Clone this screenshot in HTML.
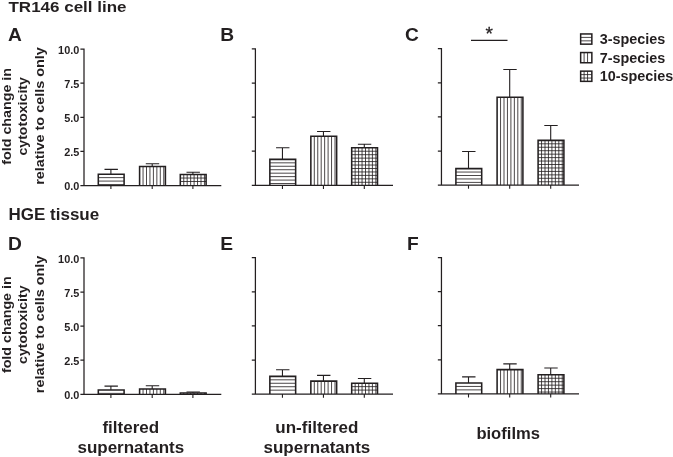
<!DOCTYPE html>
<html><head><meta charset="utf-8"><title>Figure</title>
<style>html,body{margin:0;padding:0;background:#fff}body{width:673px;height:457px;overflow:hidden}</style>
</head><body>
<svg width="673" height="457" viewBox="0 0 673 457" style="display:block">
<rect width="673" height="457" fill="#fff"/>
<g font-family='"Liberation Sans", sans-serif' font-weight="bold" fill="#231f20" stroke-linecap="butt">
<path d="M110.90 174.18V169.40M104.50 169.40H117.90" stroke="#231f20" stroke-width="1.1" fill="none"/>
<rect x="98.30" y="174.18" width="25.80" height="11.32" fill="#fff"/>
<path d="M98.30 177.63H124.10M98.30 181.08H124.10M98.30 184.53H124.10" stroke="#231f20" stroke-width="0.82" fill="none"/>
<path d="M98.30 185.50V174.18H124.10V185.50" fill="none" stroke="#231f20" stroke-width="1.55" stroke-linejoin="miter"/>
<path d="M110.90 185.50V189.10" stroke="#231f20" stroke-width="1.1"/>
<path d="M152.20 166.40V163.68M145.80 163.68H159.20" stroke="#231f20" stroke-width="1.1" fill="none"/>
<rect x="139.60" y="166.40" width="25.80" height="19.10" fill="#fff"/>
<path d="M143.05 166.40V185.50M146.50 166.40V185.50M149.95 166.40V185.50M153.40 166.40V185.50M156.85 166.40V185.50M160.30 166.40V185.50M163.75 166.40V185.50" stroke="#231f20" stroke-width="0.82" fill="none"/>
<path d="M139.60 185.50V166.40H165.40V185.50" fill="none" stroke="#231f20" stroke-width="1.55" stroke-linejoin="miter"/>
<path d="M152.20 185.50V189.10" stroke="#231f20" stroke-width="1.1"/>
<path d="M192.90 174.59V172.27M186.50 172.27H199.90" stroke="#231f20" stroke-width="1.1" fill="none"/>
<rect x="180.30" y="174.59" width="25.80" height="10.91" fill="#fff"/>
<path d="M180.30 178.04H206.10M180.30 181.49H206.10M183.75 174.59V185.50M187.20 174.59V185.50M190.65 174.59V185.50M194.10 174.59V185.50M197.55 174.59V185.50M201.00 174.59V185.50M204.45 174.59V185.50" stroke="#231f20" stroke-width="0.82" fill="none"/>
<path d="M180.30 185.50V174.59H206.10V185.50" fill="none" stroke="#231f20" stroke-width="1.55" stroke-linejoin="miter"/>
<path d="M192.90 185.50V189.10" stroke="#231f20" stroke-width="1.1"/>
<text x="79.30" y="190.10" font-size="10.9" text-anchor="end">0.0</text>
<text x="79.30" y="156.00" font-size="10.9" text-anchor="end">2.5</text>
<text x="79.30" y="121.90" font-size="10.9" text-anchor="end">5.0</text>
<text x="79.30" y="87.80" font-size="10.9" text-anchor="end">7.5</text>
<text x="79.30" y="53.70" font-size="10.9" text-anchor="end">10.0</text>
<path d="M84.00 48.47V185.50M83.38 185.50H221.30M80.40 185.50H84.00M80.40 151.40H84.00M80.40 117.30H84.00M80.40 83.20H84.00M80.40 49.10H84.00" stroke="#231f20" stroke-width="1.25" fill="none"/>
<path d="M282.45 159.38V147.79M276.05 147.79H289.45" stroke="#231f20" stroke-width="1.1" fill="none"/>
<rect x="269.85" y="159.38" width="25.80" height="25.92" fill="#fff"/>
<path d="M269.85 162.83H295.65M269.85 166.28H295.65M269.85 169.73H295.65M269.85 173.18H295.65M269.85 176.63H295.65M269.85 180.08H295.65M269.85 183.53H295.65" stroke="#231f20" stroke-width="0.82" fill="none"/>
<path d="M269.85 185.30V159.38H295.65V185.30" fill="none" stroke="#231f20" stroke-width="1.55" stroke-linejoin="miter"/>
<path d="M282.45 185.30V188.90" stroke="#231f20" stroke-width="1.1"/>
<path d="M323.45 136.20V131.56M317.05 131.56H330.45" stroke="#231f20" stroke-width="1.1" fill="none"/>
<rect x="310.85" y="136.20" width="25.80" height="49.10" fill="#fff"/>
<path d="M314.30 136.20V185.30M317.75 136.20V185.30M321.20 136.20V185.30M324.65 136.20V185.30M328.10 136.20V185.30M331.55 136.20V185.30M335.00 136.20V185.30" stroke="#231f20" stroke-width="0.82" fill="none"/>
<path d="M310.85 185.30V136.20H336.65V185.30" fill="none" stroke="#231f20" stroke-width="1.55" stroke-linejoin="miter"/>
<path d="M323.45 185.30V188.90" stroke="#231f20" stroke-width="1.1"/>
<path d="M364.30 147.79V144.24M357.90 144.24H371.30" stroke="#231f20" stroke-width="1.1" fill="none"/>
<rect x="351.70" y="147.79" width="25.80" height="37.51" fill="#fff"/>
<path d="M351.70 151.24H377.50M351.70 154.69H377.50M351.70 158.14H377.50M351.70 161.59H377.50M351.70 165.04H377.50M351.70 168.49H377.50M351.70 171.94H377.50M351.70 175.39H377.50M351.70 178.84H377.50M351.70 182.29H377.50M355.15 147.79V185.30M358.60 147.79V185.30M362.05 147.79V185.30M365.50 147.79V185.30M368.95 147.79V185.30M372.40 147.79V185.30M375.85 147.79V185.30" stroke="#231f20" stroke-width="0.82" fill="none"/>
<path d="M351.70 185.30V147.79H377.50V185.30" fill="none" stroke="#231f20" stroke-width="1.55" stroke-linejoin="miter"/>
<path d="M364.30 185.30V188.90" stroke="#231f20" stroke-width="1.1"/>
<path d="M255.40 48.28V185.30M254.78 185.30H393.00M251.80 185.30H255.40M251.80 151.20H255.40M251.80 117.10H255.40M251.80 83.00H255.40M251.80 48.90H255.40" stroke="#231f20" stroke-width="1.25" fill="none"/>
<path d="M468.50 168.60V151.55M462.10 151.55H475.50" stroke="#231f20" stroke-width="1.1" fill="none"/>
<rect x="455.90" y="168.60" width="25.80" height="16.50" fill="#fff"/>
<path d="M455.90 172.05H481.70M455.90 175.50H481.70M455.90 178.95H481.70M455.90 182.40H481.70" stroke="#231f20" stroke-width="0.82" fill="none"/>
<path d="M455.90 185.10V168.60H481.70V185.10" fill="none" stroke="#231f20" stroke-width="1.55" stroke-linejoin="miter"/>
<path d="M468.50 185.10V188.70" stroke="#231f20" stroke-width="1.1"/>
<path d="M509.70 97.26V69.57M503.30 69.57H516.70" stroke="#231f20" stroke-width="1.1" fill="none"/>
<rect x="497.10" y="97.26" width="25.80" height="87.84" fill="#fff"/>
<path d="M500.55 97.26V185.10M504.00 97.26V185.10M507.45 97.26V185.10M510.90 97.26V185.10M514.35 97.26V185.10M517.80 97.26V185.10M521.25 97.26V185.10" stroke="#231f20" stroke-width="0.82" fill="none"/>
<path d="M497.10 185.10V97.26H522.90V185.10" fill="none" stroke="#231f20" stroke-width="1.55" stroke-linejoin="miter"/>
<path d="M509.70 185.10V188.70" stroke="#231f20" stroke-width="1.1"/>
<path d="M550.70 140.36V125.49M544.30 125.49H557.70" stroke="#231f20" stroke-width="1.1" fill="none"/>
<rect x="538.10" y="140.36" width="25.80" height="44.74" fill="#fff"/>
<path d="M538.10 143.81H563.90M538.10 147.26H563.90M538.10 150.71H563.90M538.10 154.16H563.90M538.10 157.61H563.90M538.10 161.06H563.90M538.10 164.51H563.90M538.10 167.96H563.90M538.10 171.41H563.90M538.10 174.86H563.90M538.10 178.31H563.90M538.10 181.76H563.90M541.55 140.36V185.10M545.00 140.36V185.10M548.45 140.36V185.10M551.90 140.36V185.10M555.35 140.36V185.10M558.80 140.36V185.10M562.25 140.36V185.10" stroke="#231f20" stroke-width="0.82" fill="none"/>
<path d="M538.10 185.10V140.36H563.90V185.10" fill="none" stroke="#231f20" stroke-width="1.55" stroke-linejoin="miter"/>
<path d="M550.70 185.10V188.70" stroke="#231f20" stroke-width="1.1"/>
<path d="M441.45 48.07V185.10M440.82 185.10H579.00M437.85 185.10H441.45M437.85 151.00H441.45M437.85 116.90H441.45M437.85 82.80H441.45M437.85 48.70H441.45" stroke="#231f20" stroke-width="1.25" fill="none"/>
<path d="M110.90 389.94V386.12M104.50 386.12H117.90" stroke="#231f20" stroke-width="1.1" fill="none"/>
<rect x="98.30" y="389.94" width="25.80" height="4.36" fill="#fff"/>
<path d="M98.30 393.39H124.10" stroke="#231f20" stroke-width="0.82" fill="none"/>
<path d="M98.30 394.30V389.94H124.10V394.30" fill="none" stroke="#231f20" stroke-width="1.55" stroke-linejoin="miter"/>
<path d="M110.90 394.30V397.90" stroke="#231f20" stroke-width="1.1"/>
<path d="M152.20 388.98V385.71M145.80 385.71H159.20" stroke="#231f20" stroke-width="1.1" fill="none"/>
<rect x="139.60" y="388.98" width="25.80" height="5.32" fill="#fff"/>
<path d="M143.05 388.98V394.30M146.50 388.98V394.30M149.95 388.98V394.30M153.40 388.98V394.30M156.85 388.98V394.30M160.30 388.98V394.30M163.75 388.98V394.30" stroke="#231f20" stroke-width="0.82" fill="none"/>
<path d="M139.60 394.30V388.98H165.40V394.30" fill="none" stroke="#231f20" stroke-width="1.55" stroke-linejoin="miter"/>
<path d="M152.20 394.30V397.90" stroke="#231f20" stroke-width="1.1"/>
<path d="M192.90 392.94V391.98M186.50 391.98H199.90" stroke="#231f20" stroke-width="1.1" fill="none"/>
<rect x="180.30" y="392.94" width="25.80" height="1.36" fill="#fff"/>
<path d="M183.75 392.94V394.30M187.20 392.94V394.30M190.65 392.94V394.30M194.10 392.94V394.30M197.55 392.94V394.30M201.00 392.94V394.30M204.45 392.94V394.30" stroke="#231f20" stroke-width="0.82" fill="none"/>
<path d="M180.30 394.30V392.94H206.10V394.30" fill="none" stroke="#231f20" stroke-width="1.55" stroke-linejoin="miter"/>
<path d="M192.90 394.30V397.90" stroke="#231f20" stroke-width="1.1"/>
<text x="79.30" y="398.90" font-size="10.9" text-anchor="end">0.0</text>
<text x="79.30" y="364.80" font-size="10.9" text-anchor="end">2.5</text>
<text x="79.30" y="330.70" font-size="10.9" text-anchor="end">5.0</text>
<text x="79.30" y="296.60" font-size="10.9" text-anchor="end">7.5</text>
<text x="79.30" y="262.50" font-size="10.9" text-anchor="end">10.0</text>
<path d="M84.00 257.27V394.30M83.38 394.30H221.30M80.40 394.30H84.00M80.40 360.20H84.00M80.40 326.10H84.00M80.40 292.00H84.00M80.40 257.90H84.00" stroke="#231f20" stroke-width="1.25" fill="none"/>
<path d="M282.45 376.37V369.68M276.05 369.68H289.45" stroke="#231f20" stroke-width="1.1" fill="none"/>
<rect x="269.85" y="376.37" width="25.80" height="17.73" fill="#fff"/>
<path d="M269.85 379.82H295.65M269.85 383.27H295.65M269.85 386.72H295.65M269.85 390.17H295.65" stroke="#231f20" stroke-width="0.82" fill="none"/>
<path d="M269.85 394.10V376.37H295.65V394.10" fill="none" stroke="#231f20" stroke-width="1.55" stroke-linejoin="miter"/>
<path d="M282.45 394.10V397.70" stroke="#231f20" stroke-width="1.1"/>
<path d="M323.45 381.14V375.41M317.05 375.41H330.45" stroke="#231f20" stroke-width="1.1" fill="none"/>
<rect x="310.85" y="381.14" width="25.80" height="12.96" fill="#fff"/>
<path d="M314.30 381.14V394.10M317.75 381.14V394.10M321.20 381.14V394.10M324.65 381.14V394.10M328.10 381.14V394.10M331.55 381.14V394.10M335.00 381.14V394.10" stroke="#231f20" stroke-width="0.82" fill="none"/>
<path d="M310.85 394.10V381.14H336.65V394.10" fill="none" stroke="#231f20" stroke-width="1.55" stroke-linejoin="miter"/>
<path d="M323.45 394.10V397.70" stroke="#231f20" stroke-width="1.1"/>
<path d="M364.30 383.19V378.55M357.90 378.55H371.30" stroke="#231f20" stroke-width="1.1" fill="none"/>
<rect x="351.70" y="383.19" width="25.80" height="10.91" fill="#fff"/>
<path d="M351.70 386.64H377.50M351.70 390.09H377.50M355.15 383.19V394.10M358.60 383.19V394.10M362.05 383.19V394.10M365.50 383.19V394.10M368.95 383.19V394.10M372.40 383.19V394.10M375.85 383.19V394.10" stroke="#231f20" stroke-width="0.82" fill="none"/>
<path d="M351.70 394.10V383.19H377.50V394.10" fill="none" stroke="#231f20" stroke-width="1.55" stroke-linejoin="miter"/>
<path d="M364.30 394.10V397.70" stroke="#231f20" stroke-width="1.1"/>
<path d="M255.40 257.08V394.10M254.78 394.10H393.00M251.80 394.10H255.40M251.80 360.00H255.40M251.80 325.90H255.40M251.80 291.80H255.40M251.80 257.70H255.40" stroke="#231f20" stroke-width="1.25" fill="none"/>
<path d="M468.50 382.99V376.85M462.10 376.85H475.50" stroke="#231f20" stroke-width="1.1" fill="none"/>
<rect x="455.90" y="382.99" width="25.80" height="10.91" fill="#fff"/>
<path d="M455.90 386.44H481.70M455.90 389.89H481.70" stroke="#231f20" stroke-width="0.82" fill="none"/>
<path d="M455.90 393.90V382.99H481.70V393.90" fill="none" stroke="#231f20" stroke-width="1.55" stroke-linejoin="miter"/>
<path d="M468.50 393.90V397.50" stroke="#231f20" stroke-width="1.1"/>
<path d="M509.70 369.62V363.89M503.30 363.89H516.70" stroke="#231f20" stroke-width="1.1" fill="none"/>
<rect x="497.10" y="369.62" width="25.80" height="24.28" fill="#fff"/>
<path d="M500.55 369.62V393.90M504.00 369.62V393.90M507.45 369.62V393.90M510.90 369.62V393.90M514.35 369.62V393.90M517.80 369.62V393.90M521.25 369.62V393.90" stroke="#231f20" stroke-width="0.82" fill="none"/>
<path d="M497.10 393.90V369.62H522.90V393.90" fill="none" stroke="#231f20" stroke-width="1.55" stroke-linejoin="miter"/>
<path d="M509.70 393.90V397.50" stroke="#231f20" stroke-width="1.1"/>
<path d="M550.70 374.80V367.98M544.30 367.98H557.70" stroke="#231f20" stroke-width="1.1" fill="none"/>
<rect x="538.10" y="374.80" width="25.80" height="19.10" fill="#fff"/>
<path d="M538.10 378.25H563.90M538.10 381.70H563.90M538.10 385.15H563.90M538.10 388.60H563.90M538.10 392.05H563.90M541.55 374.80V393.90M545.00 374.80V393.90M548.45 374.80V393.90M551.90 374.80V393.90M555.35 374.80V393.90M558.80 374.80V393.90M562.25 374.80V393.90" stroke="#231f20" stroke-width="0.82" fill="none"/>
<path d="M538.10 393.90V374.80H563.90V393.90" fill="none" stroke="#231f20" stroke-width="1.55" stroke-linejoin="miter"/>
<path d="M550.70 393.90V397.50" stroke="#231f20" stroke-width="1.1"/>
<path d="M441.45 256.88V393.90M440.82 393.90H579.00M437.85 393.90H441.45M437.85 359.80H441.45M437.85 325.70H441.45M437.85 291.60H441.45M437.85 257.50H441.45" stroke="#231f20" stroke-width="1.25" fill="none"/>
<text transform="translate(8.5,12.4) scale(1.097,1)" font-size="15.5">TR146 cell line</text>
<text transform="translate(8.5,220.25) scale(1.076,1)" font-size="15.8">HGE tissue</text>
<text x="8" y="41.3" font-size="19.2">A</text>
<text x="220.2" y="41.2" font-size="19.2">B</text>
<text x="404.9" y="41.3" font-size="19.2">C</text>
<text x="8.1" y="250.2" font-size="19.2">D</text>
<text x="220.2" y="250.2" font-size="19.2">E</text>
<text x="407.1" y="250.2" font-size="19.2">F</text>
<text transform="translate(10.9,116.35) rotate(-90) scale(1.105,1)" font-size="12.95" text-anchor="middle">fold change in</text>
<text transform="translate(26.6,116.35) rotate(-90) scale(1.09,1)" font-size="12.95" text-anchor="middle">cytotoxicity</text>
<text transform="translate(43.7,116.07) rotate(-90) scale(1.112,1)" font-size="12.95" text-anchor="middle">relative to cells only</text>
<text transform="translate(10.9,324.70) rotate(-90) scale(1.105,1)" font-size="12.95" text-anchor="middle">fold change in</text>
<text transform="translate(26.6,324.70) rotate(-90) scale(1.09,1)" font-size="12.95" text-anchor="middle">cytotoxicity</text>
<text transform="translate(43.7,324.42) rotate(-90) scale(1.112,1)" font-size="12.95" text-anchor="middle">relative to cells only</text>
<text x="130.8" y="433.2" font-size="17" text-anchor="middle">filtered</text>
<text x="130.8" y="453.2" font-size="17" text-anchor="middle">supernatants</text>
<text x="316.9" y="433.2" font-size="17" text-anchor="middle">un-filtered</text>
<text x="316.9" y="453.2" font-size="17" text-anchor="middle">supernatants</text>
<text x="508.2" y="439" font-size="16.6" text-anchor="middle">biofilms</text>
<rect x="580.65" y="33.95" width="11.20" height="10.20" fill="#fff"/>
<path d="M580.65 37.40H591.85M580.65 40.85H591.85" stroke="#231f20" stroke-width="0.82" fill="none"/>
<rect x="580.65" y="33.95" width="11.20" height="10.20" fill="none" stroke="#231f20" stroke-width="1.5"/>
<text x="599.7" y="44.15" font-size="14.4">3-species</text>
<rect x="580.65" y="52.55" width="11.20" height="10.20" fill="#fff"/>
<path d="M584.10 52.55V62.75M587.55 52.55V62.75" stroke="#231f20" stroke-width="0.82" fill="none"/>
<rect x="580.65" y="52.55" width="11.20" height="10.20" fill="none" stroke="#231f20" stroke-width="1.5"/>
<text x="599.7" y="62.75" font-size="14.4">7-species</text>
<rect x="580.65" y="71.15" width="11.20" height="10.20" fill="#fff"/>
<path d="M580.65 74.60H591.85M580.65 78.05H591.85M584.10 71.15V81.35M587.55 71.15V81.35" stroke="#231f20" stroke-width="0.82" fill="none"/>
<rect x="580.65" y="71.15" width="11.20" height="10.20" fill="none" stroke="#231f20" stroke-width="1.5"/>
<text x="599.7" y="81.35" font-size="14.4">10-species</text>
<path d="M471 40.4H507.5" stroke="#231f20" stroke-width="1.4"/>
<text x="489.1" y="40.0" font-size="19" font-weight="normal" stroke="#231f20" stroke-width="0.3" text-anchor="middle">*</text>
</g></svg>
</body></html>
